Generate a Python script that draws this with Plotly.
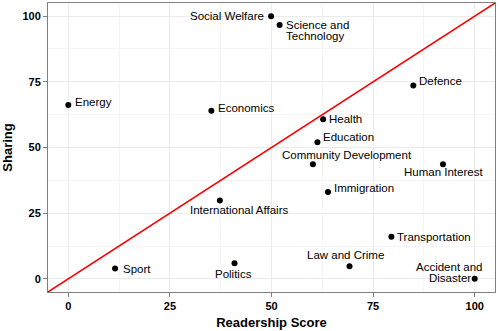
import plotly.graph_objects as go

topics = ["Energy", "Economics", "Social Welfare", "Science and<br>Technology", "Defence",
          "Health", "Education", "Community Development", "Human Interest", "Immigration",
          "International Affairs", "Transportation", "Law and Crime", "Accident and<br>Disaster",
          "Sport", "Politics"]
readership = [0, 35.2, 49.9, 52.0, 84.9, 62.7, 61.3, 60.2, 92.2, 63.9, 37.3, 79.5, 69.2, 100, 11.5, 40.9]
sharing = [66.2, 64.0, 100, 96.6, 73.6, 60.8, 52.0, 43.6, 43.6, 33.1, 29.8, 16.0, 4.8, 0, 3.9, 5.9]
ticks = [0, 25, 50, 75, 100]

# label placement (xanchor, xshift, yshift of first line, line step) in pixels
label_pos = [
    ("left", 5, 3, 0), ("left", 5, 3, 0), ("right", -5, 0, 0),
    ("left", 4, 0, -11), ("left", 4, 5, 0), ("left", 4, 0, 0),
    ("left", 4, 5, 0), ("center", 34, 9, 0), ("center", 1, -8, 0),
    ("left", 4, 4, 0), ("center", 19, -9, 0), ("left", 4, 0, 0),
    ("center", -4, 11, 0), ("center", -25, 12, -11.5), ("left", 6, 0, 0),
    ("center", -1, -11, 0),
]

rng = [-5, 105]
font = "Liberation Sans, Arial, sans-serif"

fig = go.Figure()
fig.add_trace(go.Scatter(x=readership, y=sharing, mode="markers",
                         marker=dict(color="black", size=6), hoverinfo="skip",
                         showlegend=False))

for t, xv, yv, (xa, xs, ys, step) in zip(topics, readership, sharing, label_pos):
    for i, line in enumerate(t.split("<br>")):
        fig.add_annotation(x=xv, y=yv, text=line, showarrow=False, xanchor=xa, yanchor="middle",
                           xshift=xs, yshift=ys + i * step,
                           font=dict(family=font, size=11.5, color="black"))

fig.add_shape(type="line", x0=rng[0], y0=rng[0], x1=rng[1], y1=rng[1],
              line=dict(color="red", width=1.5), layer="above")

axis_common = dict(range=rng, tickvals=ticks, ticks="outside", ticklen=4, tickcolor="#7f7f7f",
                   showline=True, linecolor="#7f7f7f", linewidth=1, mirror=True,
                   showgrid=True, gridcolor="#ebebeb", gridwidth=1, zeroline=False,
                   tickfont=dict(family=font, size=11, color="black", weight="bold"),
                   minor=dict(showgrid=True, gridcolor="#f5f5f5", dtick=12.5, tick0=-12.5))

fig.update_xaxes(**axis_common, title=dict(text="Readership Score", standoff=6,
                 font=dict(family=font, size=13, color="black", weight="bold")))
fig.update_yaxes(**axis_common, title=dict(text="Sharing", standoff=6,
                 font=dict(family=font, size=13, color="black", weight="bold")))

fig.update_layout(width=500, height=331, margin=dict(l=48, r=5, t=3, b=39),
                  plot_bgcolor="white", paper_bgcolor="white")

fig.write_html("out.html")
